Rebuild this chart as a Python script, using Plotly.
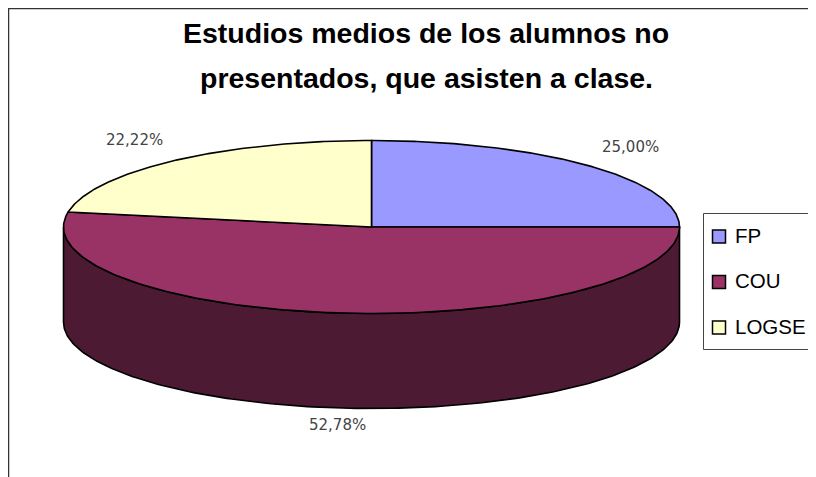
import numpy as np
import plotly.graph_objects as go

# Data
CATEGORIES = ["FP", "COU", "LOGSE"]
SHARES = [25.00, 52.78, 22.22]
COLORS = ["#9999FF", "#993366", "#FFFFCC"]
WALL_COLOR = "#4C1A33"
TITLE_LINES = ["Estudios medios de los alumnos no", "presentados, que asisten a clase."]

# Pie geometry, axes are in page pixels (page body has an 8px margin)
CX, CY, RX, RY, DEPTH = 371.5, 227, 308, 86.5, 95
LABEL_POS = [(630.5, 147), (337, 425), (134, 140)]
LEGEND_Y = [236.5, 282, 327.5]


def rim(start_deg, end_deg, drop=0):
    # angles run clockwise from 12 o'clock
    t = np.radians(np.linspace(start_deg, end_deg, 181))
    return CX + RX * np.sin(t), CY - RY * np.cos(t) + drop


fig = go.Figure()

# Side wall: only the front half of the rim shows, all of it inside COU
wall_x_top, wall_y_top = rim(90, 270)
wall_x_low, wall_y_low = rim(270, 90, DEPTH)
fig.add_trace(
    go.Scatter(
        x=np.r_[wall_x_top, wall_x_low, wall_x_top[0]],
        y=np.r_[wall_y_top, wall_y_low, wall_y_top[0]],
        mode="lines",
        fill="toself",
        fillcolor=WALL_COLOR,
        line={"color": "black", "width": 1.6},
        showlegend=False,
        hoverinfo="skip",
    )
)

# Top face slices
start = 0
for name, share, color in zip(CATEGORIES, SHARES, COLORS):
    end = start + share * 3.6
    arc_x, arc_y = rim(start, end)
    fig.add_trace(
        go.Scatter(
            x=np.r_[CX, arc_x, CX],
            y=np.r_[CY, arc_y, CY],
            mode="lines",
            fill="toself",
            fillcolor=color,
            line={"color": "black", "width": 1.6},
            showlegend=False,
            name=name,
        )
    )
    start = end

# Legend drawn by hand: the box runs off the right edge, which a native legend can't fit
fig.add_trace(
    go.Scatter(
        x=[719] * len(CATEGORIES),
        y=LEGEND_Y,
        mode="markers",
        marker={"symbol": "square", "size": 13, "color": COLORS, "line": {"color": "black", "width": 1.5}},
        showlegend=False,
        hoverinfo="skip",
    )
)

annotations = []
for line, y in zip(TITLE_LINES, [33, 78]):
    annotations.append(
        {
            "text": f"<b>{line}</b>",
            "x": 426,
            "y": y,
            "showarrow": False,
            "font": {"family": "Liberation Sans", "size": 28.5, "color": "black"},
        }
    )
for share, (x, y) in zip(SHARES, LABEL_POS):
    annotations.append(
        {
            "text": f"{share:.2f}".replace(".", ",") + "%",
            "x": x,
            "y": y,
            "showarrow": False,
            "font": {"family": "DejaVu Sans", "size": 15, "color": "#444444"},
        }
    )
for name, y in zip(CATEGORIES, LEGEND_Y):
    annotations.append(
        {
            "text": name,
            "x": 733,
            "y": y - 1.5,
            "xanchor": "left",
            "showarrow": False,
            "font": {"family": "Liberation Sans", "size": 20.5, "color": "black"},
        }
    )

fig.update_layout(
    autosize=False,
    width=808,
    height=469,
    margin={"l": 0, "r": 0, "t": 0, "b": 0, "autoexpand": False},
    paper_bgcolor="white",
    plot_bgcolor="white",
    xaxis={"visible": False, "range": [8, 816], "fixedrange": True},
    yaxis={"visible": False, "range": [477, 8], "fixedrange": True},
    annotations=annotations,
    shapes=[
        {
            "type": "rect",
            "x0": 8.5,
            "y0": 8.5,
            "x1": 840,
            "y1": 500,
            "line": {"color": "#333333", "width": 1.5},
            "layer": "below",
        },
        {
            "type": "rect",
            "x0": 703.5,
            "y0": 213.5,
            "x1": 840,
            "y1": 349.5,
            "line": {"color": "#444444", "width": 1},
            "fillcolor": "white",
            "layer": "below",
        },
    ],
)

fig.write_html("out.html")
